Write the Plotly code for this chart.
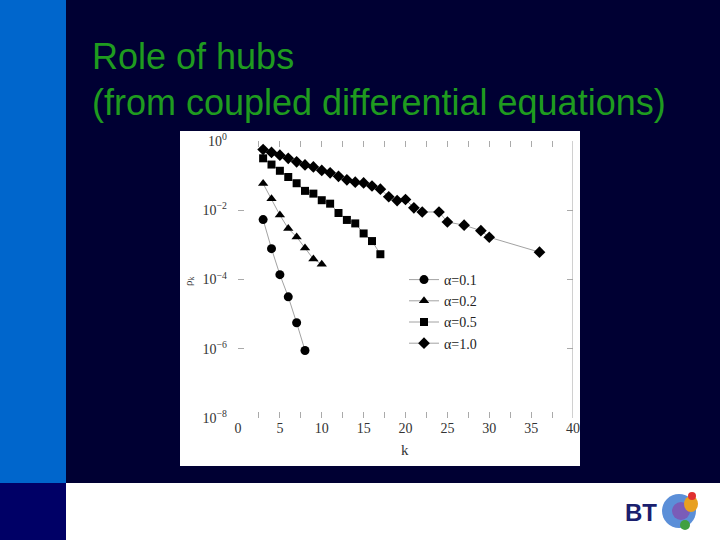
import plotly.graph_objects as go

# ---- data ----
k_a01 = [3, 4, 5, 6, 7, 8]
y_a01 = [10**-2.27, 10**-3.11, 10**-3.86, 10**-4.50, 10**-5.25, 10**-6.05]

k_a02 = [3, 4, 5, 6, 7, 8, 9, 10]
y_a02 = [10**-1.23, 10**-1.67, 10**-2.14, 10**-2.53, 10**-2.77, 10**-3.09, 10**-3.41, 10**-3.56]

k_a05 = [3, 4, 5, 6, 7, 8, 9, 10, 11, 12, 13, 14, 15, 16, 17]
y_a05 = [10**-0.50, 10**-0.68, 10**-0.86, 10**-1.04, 10**-1.22, 10**-1.44, 10**-1.52,
         10**-1.71, 10**-1.81, 10**-2.08, 10**-2.28, 10**-2.38, 10**-2.67, 10**-2.89, 10**-3.27]

k_a10 = [3, 4, 5, 6, 7, 8, 9, 10, 11, 12, 13, 14, 15, 16, 17, 18, 19, 20, 21, 22, 24, 25, 27, 29, 30, 36]
y_a10 = [10**-0.245, 10**-0.33, 10**-0.41, 10**-0.50, 10**-0.60, 10**-0.69, 10**-0.75,
         10**-0.85, 10**-0.92, 10**-1.02, 10**-1.12, 10**-1.19, 10**-1.21, 10**-1.30,
         10**-1.39, 10**-1.61, 10**-1.72, 10**-1.69, 10**-1.93, 10**-2.05, 10**-2.05,
         10**-2.34, 10**-2.43, 10**-2.59, 10**-2.78, 10**-3.21]

series_names = ["α=0.1", "α=0.2", "α=0.5", "α=1.0"]
x_tick_vals = [0, 5, 10, 15, 20, 25, 30, 35, 40]
x_tick_text = ["0", "5", "10", "15", "20", "25", "30", "35", "40"]
y_tick_vals = [1e0, 1e-2, 1e-4, 1e-6, 1e-8]
y_tick_text = ["10<sup>0</sup>", "10<sup>−2</sup>", "10<sup>−4</sup>", "10<sup>−6</sup>", "10<sup>−8</sup>"]
title_lines = ["Role of hubs", "(from coupled differential equations)"]

# ---- geometry ----
W, H = 720, 540
L, R, T, B = 238, 573, 141, 418


def px(x):
    return (x - L) / (R - L)


def py(y):
    return (B - y) / (B - T)


serif = "Liberation Serif, Times New Roman, serif"
line_style = dict(color="#8a8a8a", width=0.8)

fig = go.Figure()
for xs, ys, name, sym, sz in [
    (k_a01, y_a01, series_names[0], "circle", 9),
    (k_a02, y_a02, series_names[1], "triangle-up", 9),
    (k_a05, y_a05, series_names[2], "square", 8),
    (k_a10, y_a10, series_names[3], "diamond", 9),
]:
    fig.add_trace(go.Scatter(
        x=xs, y=ys, name=name, mode="lines+markers",
        line=line_style,
        marker=dict(symbol=sym, size=sz, color="black"),
    ))

shapes = [
    # blue strip left
    dict(type="rect", xref="paper", yref="paper", x0=px(0), x1=px(66), y0=py(483), y1=py(0),
         fillcolor="#0066cc", line=dict(width=0), layer="below"),
    # bottom white band
    dict(type="rect", xref="paper", yref="paper", x0=px(66), x1=px(720), y0=py(540), y1=py(483),
         fillcolor="white", line=dict(width=0), layer="below"),
    # bottom-left navy box
    dict(type="rect", xref="paper", yref="paper", x0=px(0), x1=px(66), y0=py(540), y1=py(483),
         fillcolor="#000066", line=dict(width=0), layer="below"),
    # white figure panel
    dict(type="rect", xref="paper", yref="paper", x0=px(180), x1=px(580), y0=py(466), y1=py(131),
         fillcolor="white", line=dict(width=0), layer="below"),
    # right frame line
    dict(type="line", xref="x", yref="paper", x0=40, x1=40, y0=0, y1=1,
         line=dict(color="#a0a0a0", width=1)),
    # BT logo globe
    dict(type="circle", xref="paper", yref="paper", x0=px(662), x1=px(696), y0=py(528), y1=py(494),
         fillcolor="#5b8fd8", line=dict(width=0)),
    dict(type="circle", xref="paper", yref="paper", x0=px(672), x1=px(690), y0=py(520), y1=py(502),
         fillcolor="#7a5cb8", line=dict(width=0)),
    dict(type="circle", xref="paper", yref="paper", x0=px(684), x1=px(698), y0=py(512), y1=py(496),
         fillcolor="#e8a020", line=dict(width=0)),
    dict(type="circle", xref="paper", yref="paper", x0=px(688), x1=px(696), y0=py(500), y1=py(492),
         fillcolor="#e03030", line=dict(width=0)),
    dict(type="circle", xref="paper", yref="paper", x0=px(680), x1=px(690), y0=py(530), y1=py(520),
         fillcolor="#40a040", line=dict(width=0)),
]

annotations = [
    dict(text=title_lines[0], xref="paper", yref="paper", x=px(90), y=py(57),
         xanchor="left", yanchor="middle", showarrow=False,
         font=dict(family="Liberation Sans, Arial, sans-serif", size=36, color="#1f9b1f")),
    dict(text=title_lines[1], xref="paper", yref="paper", x=px(90), y=py(102),
         xanchor="left", yanchor="middle", showarrow=False,
         font=dict(family="Liberation Sans, Arial, sans-serif", size=36, color="#1f9b1f")),
    dict(text="ρ<sub>k</sub>", xref="paper", yref="paper", x=px(189), y=py(281),
         xanchor="center", yanchor="middle", showarrow=False, textangle=-90,
         font=dict(family=serif, size=11, color="#333")),
    dict(text="k", xref="paper", yref="paper", x=px(405), y=py(450),
         xanchor="center", yanchor="middle", showarrow=False,
         font=dict(family=serif, size=15, color="#333")),
    dict(text="<b>BT</b>", xref="paper", yref="paper", x=px(641), y=py(512),
         xanchor="center", yanchor="middle", showarrow=False,
         font=dict(family="Liberation Sans, Arial, sans-serif", size=24, color="#1a1f6e")),
]

fig.update_layout(
    width=W, height=H,
    margin=dict(l=L, r=W - R, t=T, b=H - B, autoexpand=False),
    paper_bgcolor="#000033",
    plot_bgcolor="white",
    showlegend=True,
    legend=dict(x=px(404), y=py(264), xanchor="left", yanchor="top",
                bgcolor="rgba(0,0,0,0)", font=dict(family=serif, size=14, color="#222"),
                tracegroupgap=0, itemwidth=30),
    shapes=shapes,
    annotations=annotations,
)

fig.update_xaxes(
    range=[0, 40], tickmode="array", tickvals=x_tick_vals, ticktext=x_tick_text,
    ticks="inside", ticklen=6, tickcolor="#aaaaaa", mirror="ticks",
    minor=dict(dtick=2.5, ticks="inside", ticklen=6, tickcolor="#aaaaaa", showgrid=False),
    showline=False, showgrid=False, zeroline=False,
    tickfont=dict(family=serif, size=14, color="#333"),
)
fig.update_yaxes(
    type="log", range=[-8, 0], tickmode="array", tickvals=y_tick_vals, ticktext=y_tick_text,
    ticks="inside", ticklen=6, tickcolor="#aaaaaa", mirror="ticks",
    showline=False, showgrid=False, zeroline=False, ticklabelstandoff=10,
    tickfont=dict(family=serif, size=14, color="#333"),
)

fig.write_html(
    "out.html",
    config={"displayModeBar": False},
    post_script="document.body.style.margin='0';document.body.style.background='#000033';",
)
